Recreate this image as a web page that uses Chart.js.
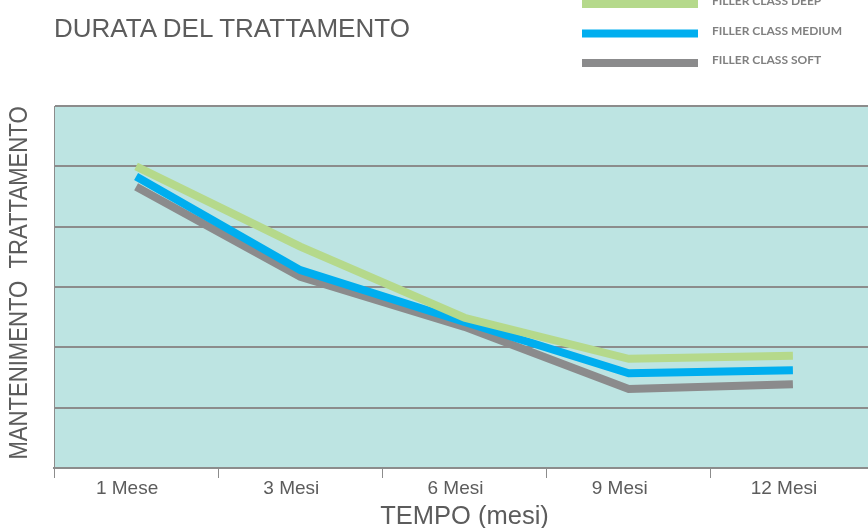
<!DOCTYPE html>
<html>
<head>
<meta charset="utf-8">
<script src="https://cdn.jsdelivr.net/npm/chart.js@4.4.0/dist/chart.umd.min.js"></script>
<style>
  html, body { margin: 0; padding: 0; background: #fff; overflow: hidden; }
  #wrap { position: relative; width: 876px; height: 528px; }
  #title {
    position: absolute; left: 54px; top: 13px; margin: 0; font-weight: normal;
    font: 26px "Liberation Sans", Arial, sans-serif; color: #5c5c5c;
  }
</style>
</head>
<body>
<div id="wrap">
  <h1 id="title">DURATA DEL TRATTAMENTO</h1>
  <canvas id="myChart" width="876" height="528"></canvas>
</div>
<script>
// tempo
var mesi = ["1 Mese", "3 Mesi", "6 Mesi", "9 Mesi", "12 Mesi"];
// mantenimento (unità di griglia, 0-6)
var deep = [5.0, 3.67, 2.49, 1.81, 1.86];
var medium = [4.83, 3.28, 2.42, 1.57, 1.62];
var soft = [4.66, 3.17, 2.34, 1.31, 1.39];
var nomi = ["FILLER CLASS DEEP", "FILLER CLASS MEDIUM", "FILLER CLASS SOFT"];
var colori = ["#b5d98b", "#00aeef", "#8b8b8c"];
var titoloY = "MANTENIMENTO  TRATTAMENTO";

var grigio = "#8c8c8c";

// fondo azzurro dell'area
var sfondo = {
  id: "sfondo",
  beforeDraw: function(chart) {
    var a = chart.chartArea;
    var ctx = chart.ctx;
    ctx.save();
    ctx.fillStyle = "#bde4e2";
    ctx.fillRect(a.left, a.top, a.right - a.left, a.bottom - a.top);
    ctx.restore();
  }
};

// titolo verticale, un po' stretto come nell'originale
var asseY = {
  id: "asseY",
  afterDraw: function(chart) {
    var a = chart.chartArea;
    var ctx = chart.ctx;
    ctx.save();
    ctx.translate(20, (a.top + a.bottom) / 2 - 4);
    ctx.rotate(-Math.PI / 2);
    ctx.scale(0.85, 1);
    ctx.fillStyle = "#5c5c5c";
    ctx.font = "26px 'Liberation Sans', Arial, sans-serif";
    ctx.textAlign = "center";
    ctx.textBaseline = "middle";
    ctx.fillText(titoloY, 0, 0);
    ctx.restore();
  }
};

// legenda in alto a destra, una riga per serie
var legenda = {
  id: "legenda",
  afterDraw: function(chart) {
    var ctx = chart.ctx;
    ctx.save();
    chart.data.datasets.forEach(function(ds, i) {
      var y = 4 + i * 29.5;
      ctx.fillStyle = ds.borderColor;
      ctx.fillRect(582, y - 4, 116, 8);
      ctx.fillStyle = "#808080";
      ctx.font = "bold 12px Lato, 'DejaVu Sans', sans-serif";
      ctx.textBaseline = "middle";
      ctx.fillText(ds.label, 712, y - 2.5);
    });
    ctx.restore();
  }
};

var ctx = document.getElementById("myChart").getContext("2d");
var myChart = new Chart(ctx, {
  type: "line",
  data: {
    labels: mesi,
    datasets: [
      { label: nomi[0], data: deep, borderColor: colori[0] },
      { label: nomi[1], data: medium, borderColor: colori[1] },
      { label: nomi[2], data: soft, borderColor: colori[2] }
    ]
  },
  options: {
    responsive: false,
    animation: false,
    layout: { padding: { top: 106, right: 1, left: 0, bottom: 0 } },
    elements: {
      line: { borderWidth: 8, tension: 0, fill: false },
      point: { radius: 0 }
    },
    plugins: {
      legend: { display: false },
      tooltip: { enabled: false }
    },
    scales: {
      x: {
        offset: true,
        afterFit: function(scale) { scale.height = 60; },
        grid: {
          offset: true,
          drawOnChartArea: false,
          drawTicks: true,
          tickLength: 10,
          color: grigio,
          lineWidth: 1
        },
        border: { display: true, color: grigio, width: 2 },
        ticks: {
          color: "#5c5c5c",
          padding: 0,
          labelOffset: -9,
          font: { family: "'Liberation Sans', Arial, sans-serif", size: 19, lineHeight: 1.1 }
        },
        title: {
          display: true,
          text: "TEMPO (mesi)",
          color: "#5c5c5c",
          padding: 0,
          font: { family: "'Liberation Sans', Arial, sans-serif", size: 25.5, lineHeight: 0.85 }
        }
      },
      y: {
        min: 0,
        max: 6,
        afterFit: function(scale) { scale.width = 54; },
        ticks: { display: false, stepSize: 1 },
        grid: { drawTicks: false, color: grigio, lineWidth: 2 },
        border: { display: true, color: grigio, width: 1 }
      }
    }
  },
  plugins: [sfondo, asseY, legenda]
});
</script>
</body>
</html>
